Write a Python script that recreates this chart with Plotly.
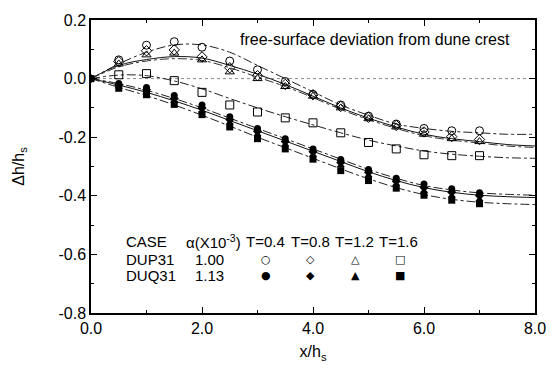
import plotly.graph_objects as go

# ---------------- data ----------------
x_pts = [0.5, 1.0, 1.5, 2.0, 2.5, 3.0, 3.5, 4.0, 4.5, 5.0, 5.5, 6.0, 6.5, 7.0]
x_pts0 = [0.0] + x_pts
x_fit = [0.0, 0.5, 1.0, 1.5, 2.0, 2.5, 3.0, 3.5, 4.0, 4.5, 5.0, 5.5, 6.0, 6.5, 7.0, 7.5, 8.0]

# DUP31 (open markers)
dup_t04 = [0.064, 0.114, 0.126, 0.107, 0.060, 0.030, -0.010, -0.054, -0.090, -0.128, -0.155, -0.170, -0.178, -0.178]
dup_t08 = [0.058, 0.095, 0.098, 0.074, 0.037, 0.010, -0.020, -0.055, -0.095, -0.132, -0.160, -0.182, -0.198, -0.208]
dup_t12 = [0.050, 0.081, 0.087, 0.064, 0.023, 0.000, -0.027, -0.060, -0.100, -0.137, -0.165, -0.190, -0.205, -0.215]
dup_t16 = [0.013, 0.017, -0.007, -0.047, -0.090, -0.114, -0.134, -0.151, -0.185, -0.218, -0.240, -0.260, -0.263, -0.263]

# DUQ31 (filled markers)
duq_t04 = [0.0, -0.017, -0.030, -0.058, -0.090, -0.130, -0.170, -0.205, -0.240, -0.276, -0.310, -0.340, -0.360, -0.376, -0.390]
duq_t08 = [0.0, -0.022, -0.038, -0.068, -0.100, -0.140, -0.180, -0.215, -0.250, -0.286, -0.320, -0.350, -0.372, -0.388, -0.400]
duq_t12 = [0.0, -0.027, -0.045, -0.077, -0.110, -0.150, -0.190, -0.225, -0.260, -0.296, -0.330, -0.360, -0.384, -0.400, -0.412]
duq_t16 = [0.0, -0.033, -0.055, -0.088, -0.123, -0.165, -0.205, -0.240, -0.275, -0.314, -0.348, -0.374, -0.398, -0.415, -0.427]

# fitted curves
fit_dup_t04 = [0.0, 0.050, 0.090, 0.115, 0.115, 0.090, 0.045, 0.000, -0.045, -0.090, -0.125, -0.155, -0.170, -0.180, -0.185, -0.190, -0.190]
fit_dup_t08 = [0.0, 0.045, 0.065, 0.075, 0.070, 0.045, 0.015, -0.020, -0.060, -0.100, -0.135, -0.165, -0.190, -0.205, -0.215, -0.225, -0.230]
fit_dup_t12 = [0.0, 0.040, 0.060, 0.068, 0.062, 0.037, 0.005, -0.027, -0.065, -0.105, -0.140, -0.170, -0.195, -0.210, -0.220, -0.230, -0.235]
fit_dup_t16 = [0.0, 0.012, 0.010, -0.008, -0.035, -0.068, -0.100, -0.130, -0.158, -0.185, -0.210, -0.230, -0.247, -0.258, -0.265, -0.270, -0.272]
fit_duq_t04 = [0.0, -0.017, -0.040, -0.068, -0.100, -0.135, -0.170, -0.205, -0.240, -0.275, -0.310, -0.340, -0.365, -0.380, -0.390, -0.395, -0.398]
fit_duq_t08 = [0.0, -0.022, -0.047, -0.076, -0.108, -0.143, -0.178, -0.213, -0.248, -0.283, -0.318, -0.348, -0.372, -0.388, -0.398, -0.403, -0.406]
fit_duq_t16 = [0.0, -0.030, -0.058, -0.090, -0.125, -0.162, -0.200, -0.236, -0.272, -0.308, -0.342, -0.372, -0.396, -0.412, -0.422, -0.427, -0.430]

x_ticks = [0, 2, 4, 6, 8]
y_ticks = [0.2, 0.0, -0.2, -0.4, -0.6, -0.8]

hdr_txt = ["CASE", "α(X10<sup>-3</sup>)", "T=0.4", "T=0.8", "T=1.2", "T=1.6"]
row_names = ["DUP31", "DUQ31"]
row_alpha = ["1.00", "1.13"]

FONT = "Liberation Sans, Arial, sans-serif"

fig = go.Figure()

# fitted curves
fits = [
    (fit_dup_t04, "dashdot", "#222"),
    (fit_dup_t08, "solid", "#111"),
    (fit_dup_t12, "dashdot", "#333"),
    (fit_dup_t16, "dashdot", "#222"),
    (fit_duq_t04, "dashdot", "#222"),
    (fit_duq_t08, "solid", "#111"),
    (fit_duq_t16, "dashdot", "#222"),
]
for ys, dash, col in fits:
    fig.add_trace(go.Scatter(x=x_fit, y=ys, mode="lines", line=dict(color=col, width=1, dash=dash, shape="spline"),
                             showlegend=False, hoverinfo="skip"))

# open markers
opens = [
    (dup_t04, "circle-open", 8),
    (dup_t08, "diamond-open", 8),
    (dup_t12, "triangle-up-open", 8),
    (dup_t16, "square-open", 8),
]
for ys, sym, sz in opens:
    fig.add_trace(go.Scatter(x=x_pts, y=ys, mode="markers",
                             marker=dict(symbol=sym, size=sz, color="black", line=dict(width=1, color="black")),
                             showlegend=False))

# filled markers
filled = [
    (duq_t04, "circle", 7),
    (duq_t08, "diamond", 7),
    (duq_t12, "triangle-up", 7),
    (duq_t16, "square", 7),
]
for ys, sym, sz in filled:
    fig.add_trace(go.Scatter(x=x_pts0, y=ys, mode="markers",
                             marker=dict(symbol=sym, size=sz, color="black"),
                             showlegend=False))

# dotted zero line
fig.add_shape(type="line", xref="paper", x0=0, x1=1, yref="y", y0=0, y1=0,
              line=dict(color="#888", width=1, dash="dot"), layer="below")

ann_font = dict(family=FONT, size=16, color="black")
tbl_font = dict(family=FONT, size=15, color="black")

fig.add_annotation(text="free-surface deviation from dune crest", xref="paper", yref="paper",
                   x=0.949, y=0.933, xanchor="right", yanchor="middle", showarrow=False, font=ann_font)

# table-like legend
hdr_y = 0.243
hdr_x = [0.077, 0.212, 0.346, 0.449, 0.547, 0.647]
for txt, xx in zip(hdr_txt, hdr_x):
    fig.add_annotation(text=txt, xref="paper", yref="paper", x=xx, y=hdr_y, xanchor="left",
                       yanchor="middle", showarrow=False, font=tbl_font, borderpad=0)

row_y = [0.183, 0.128]
for name, val, yy in zip(row_names, row_alpha, row_y):
    fig.add_annotation(text=name, xref="paper", yref="paper", x=0.077, y=yy, xanchor="left",
                       yanchor="middle", showarrow=False, font=tbl_font, borderpad=0)
    fig.add_annotation(text=val, xref="paper", yref="paper", x=0.233, y=yy, xanchor="left",
                       yanchor="middle", showarrow=False, font=tbl_font, borderpad=0)

sym_x = [0.394, 0.495, 0.595, 0.696]
for s, xx in zip(["○", "◇", "△", "□"], sym_x):
    fig.add_annotation(text=s, xref="paper", yref="paper", x=xx, y=row_y[0], xanchor="center",
                       yanchor="middle", showarrow=False, font=dict(family="DejaVu Sans", size=11, color="black"),
                       borderpad=0)
for s, xx in zip(["●", "◆", "▲", "■"], sym_x):
    fig.add_annotation(text=s, xref="paper", yref="paper", x=xx, y=row_y[1], xanchor="center",
                       yanchor="middle", showarrow=False, font=dict(family="DejaVu Sans", size=11, color="black"),
                       borderpad=0)

axis_common = dict(showgrid=False, zeroline=False, showline=True, linecolor="black", linewidth=1.5,
                   mirror="ticks", ticks="inside", ticklen=6, tickcolor="black", tickwidth=1,
                   tickfont=dict(family=FONT, size=16, color="black"))

fig.update_xaxes(range=[0, 8], tickvals=x_ticks, ticktext=[f"{v:.1f}" for v in x_ticks],
                 minor=dict(dtick=1, ticks="inside", ticklen=3, tickcolor="black"),
                 title=dict(text="x/h<sub>s</sub>", font=dict(family=FONT, size=16, color="black"), standoff=10),
                 **axis_common)
fig.update_yaxes(range=[-0.8, 0.2], tickvals=y_ticks, ticktext=[f"{v:.1f}" for v in y_ticks],
                 minor=dict(dtick=0.1, ticks="inside", ticklen=3, tickcolor="black"),
                 title=dict(text="Δh/h<sub>s</sub>", font=dict(family=FONT, size=16, color="black"), standoff=30),
                 **axis_common)

fig.update_layout(width=558, height=370, margin=dict(l=91, r=13, t=16, b=56),
                  plot_bgcolor="white", paper_bgcolor="white", showlegend=False)

fig.write_html("out.html")
